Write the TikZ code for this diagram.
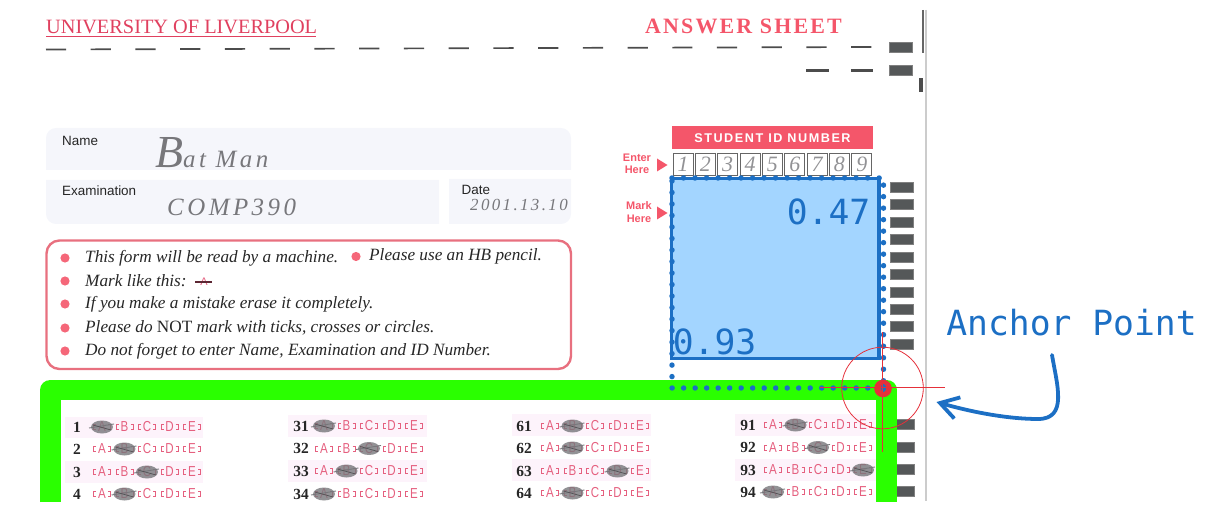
\documentclass[tikz,border=0pt]{standalone}
\usepackage{fontspec}
\setmainfont{Liberation Serif}
\setsansfont{Liberation Sans}
\setmonofont{DejaVu Sans Mono}
\newfontfamily\titlefont[LetterSpace=10]{Liberation Serif}
\newfontfamily\idfont[LetterSpace=12]{Liberation Sans}
\newfontfamily\handfont[LetterSpace=14]{Liberation Serif}
\newfontfamily\bubblefont[FakeStretch=0.8]{Liberation Sans}
\usetikzlibrary{arrows.meta,shapes}
\definecolor{sheetred}{HTML}{E0405F}
\definecolor{softred}{HTML}{F4566A}
\definecolor{boxred}{HTML}{E8707F}
\definecolor{bubblered}{HTML}{E5607F}
\definecolor{stripe}{HTML}{FDF3FB}
\definecolor{panel}{HTML}{F5F6FB}
\definecolor{hiblue}{HTML}{1C6FC4}
\definecolor{hifill}{HTML}{A3D5FF}
\definecolor{hired}{HTML}{E5303A}
\definecolor{framegreen}{HTML}{2AFF00}
\definecolor{blockgray}{HTML}{555859}
\definecolor{pencil}{HTML}{77777B}
\tikzset{
  rule/.style={inner sep=0pt,font=\rmfamily\itshape\fontsize{17.3}{19}\selectfont,text=black!85,anchor=west},
  formlabel/.style={inner sep=0pt,anchor=west,font=\sffamily\fontsize{13.5}{15}\selectfont,text=black!85},
  hand/.style={inner sep=0pt,anchor=west,text=pencil,font=\handfont\itshape\fontsize{25}{27}\selectfont},
  sidelabel/.style={inner sep=0pt,align=center,text=softred,font=\sffamily\bfseries\fontsize{11}{12.5}\selectfont},
  cell/.style={draw=black!60,line width=0.8pt,minimum width=20bp,minimum height=22bp,inner sep=0pt,text=pencil!80,font=\rmfamily\itshape\fontsize{22}{22}\selectfont},
  value/.style={inner sep=0pt,text=hiblue,font=\ttfamily\fontsize{34.8}{36}\selectfont},
  bubble/.style={inner sep=0pt,text=bubblered,font=\bubblefont\fontsize{14.5}{14.5}\selectfont},
  qnum/.style={inner sep=0pt,text=black!85,font=\rmfamily\bfseries\fontsize{15.5}{16}\selectfont},
  block/.style={fill=blockgray,draw=black!50,line width=0.3pt},
  dotrun/.style={hiblue,line width=5.5pt,line cap=round,dash pattern=on 0pt off 11.55pt},
}
% number x, first bubble x, y, number, marked bubble
\newcommand{\answerrow}[5]{
  \node[qnum] (n#4) at (#1,-#3) {#4};
  \foreach \l [count=\i from 0] in {A,B,C,D,E}{
    \node[bubble] (q#4\l) at ({#2+22.5*\i},-#3) {\l};
    \draw[bubblered,line width=0.5pt] ({#2+22.5*\i-6},{-#3+2.5}) -- ({#2+22.5*\i-8.5},{-#3+2.5}) -- ({#2+22.5*\i-8.5},{-#3-2.5}) -- ({#2+22.5*\i-6},{-#3-2.5});
    \draw[bubblered,line width=0.5pt] ({#2+22.5*\i+6},{-#3+2.5}) -- ({#2+22.5*\i+8.5},{-#3+2.5}) -- ({#2+22.5*\i+8.5},{-#3-2.5}) -- ({#2+22.5*\i+6},{-#3-2.5});
  }
  \fill[pencil,opacity=0.8] ({#2+22.5*#5},-#3) ellipse (11 and 6.5);
  \draw[pencil,line width=0.9pt] ({#2+22.5*#5-13},{-#3-1}) -- ({#2+22.5*#5+12},{-#3+3});
  \draw[pencil!70!black,line width=0.7pt] ({#2+22.5*#5-9},{-#3+2}) -- ({#2+22.5*#5+9},{-#3-3});
}
\begin{document}
\begin{tikzpicture}[x=1bp,y=1bp]
\useasboundingbox (0,0) rectangle (1208,-511);

% page edge
\draw[black!20,line width=1.2pt] (926,-10) -- (926,-501);
\draw[black!60,line width=1.2pt] (923,-10) -- (923,-53);
\fill[black!70] (919,-78) rectangle (922.5,-92);

% header
\node (uni) at (46,-26.5)[inner sep=0pt,anchor=west,text=sheetred,font=\rmfamily\fontsize{20.4}{22}\selectfont] {UNIVERSITY OF LIVERPOOL};
\draw[sheetred,line width=0.9pt] (46,-36) -- (316,-36);
\node (sheet) at (743.5,-26)[inner sep=0pt,text=softred,font=\titlefont\bfseries\fontsize{22}{23}\selectfont] {ANSWER SHEET};
\draw[black!70,line width=1.7pt,dash pattern=on 20.3pt off 24.6pt] (46,-49.5) -- (873,-47);
\draw[black!70,line width=2.2pt,dash pattern=on 23pt off 22pt] (806,-70.5) -- (873,-70.5);
\draw[block] (889,-42) rectangle (912,-52.5);
\draw[block] (889,-65) rectangle (912,-75);

% form fields
\fill[panel] (46,-170) [rounded corners=10] -- (46,-128) -- (571,-128) [sharp corners] -- (571,-170) -- cycle;
\fill[panel] (46,-180) -- (439,-180) -- (439,-224) [rounded corners=10] -- (46,-224) [sharp corners] -- cycle;
\fill[panel] (449,-179) -- (571,-179) [rounded corners=10] -- (571,-224) [sharp corners] -- (449,-224) -- cycle;
\node (name) at (62,-141)[formlabel] {Name};
\node (exam) at (62,-191)[formlabel] {Examination};
\node (date) at (461.5,-190)[formlabel] {Date};
\node (batman) at (155,-153)[hand] {{\fontsize{46}{46}\selectfont B}at Man};
\node (comp) at (167,-207)[hand,font=\handfont\itshape\fontsize{25}{27}\selectfont] {COMP390};
\node (when) at (470,-205)[hand,font=\handfont\itshape\fontsize{17}{20}\selectfont] {2001.13.10};

% instructions
\draw[boxred,line width=2.4pt,rounded corners=13] (46.5,-240.5) rectangle (571,-369);
\foreach \y in {258,281,304,328,351}{
  \fill[softred!90] (65,-\y) circle (4.6);
}
\fill[softred!90] (356,-256.5) circle (4.6);
\node (r1) at (85,-258)[rule] {This form will be read by a machine.};
\node (r2) at (369,-256.5)[rule] {Please use an HB pencil.};
\node (r3) at (85,-281)[rule] {Mark like this:};
\node (r3a) at (204,-282)[inner sep=0pt,text=bubblered,font=\sffamily\fontsize{11}{12}\selectfont] {A};
\draw[black!60!bubblered,line width=2.2pt] (195,-282) -- (212,-282);
\node (r4) at (85,-304)[rule] {If you make a mistake erase it completely.};
\node (r5) at (85,-328)[rule] {Please do {\upshape NOT} mark with ticks, crosses or circles.};
\node (r6) at (85,-351)[rule] {Do not forget to enter Name, Examination and ID Number.};

% student id
\fill[softred] (672,-126) rectangle (873,-149.5);
\node (idhead) at (772.5,-138)[inner sep=0pt,text=white,font=\idfont\bfseries\fontsize{12.7}{13}\selectfont] {STUDENT ID NUMBER};
\foreach \d [count=\i from 0] in {1,...,9}{
  \node[cell] (digit\d) at ({683+22.35*\i},-164.5) {\d};
}
\node (enter) at (637,-164)[sidelabel] {Enter\\Here};
\fill[softred] (657,-158.5) -- (667.5,-165) -- (657,-171.5) -- cycle;
\node (mark) at (639,-212)[sidelabel] {Mark\\Here};
\fill[softred] (657,-206.5) -- (667.5,-213) -- (657,-219.5) -- cycle;

% timing blocks
\foreach \y in {187,204.5,222,239.5,257,274.5,292,309,326.5,344}{
  \draw[block] (890,-\y+5) rectangle (913,-\y-5);
}
\foreach \y in {424,447,469,491}{
  \draw[block] (890,-\y+5) rectangle (914,-\y-5);
}

% answers
\fill[stripe] (65,-417) rectangle (203,-438);
\fill[stripe] (65,-461) rectangle (203,-483);
\fill[stripe] (288,-415) rectangle (427,-437);
\fill[stripe] (288,-460) rectangle (427,-482);
\fill[stripe] (512,-414) rectangle (651,-436);
\fill[stripe] (512,-459) rectangle (651,-481);
\fill[stripe] (735,-414) rectangle (877,-436);
\fill[stripe] (735,-459) rectangle (877,-481);
\answerrow{77}{102}{427}{1}{0}
\answerrow{77}{102}{449}{2}{1}
\answerrow{77}{102}{472}{3}{2}
\answerrow{77}{102}{494}{4}{1}
\answerrow{301}{324}{426}{31}{0}
\answerrow{301}{324}{448.5}{32}{2}
\answerrow{301}{324}{471}{33}{1}
\answerrow{301}{324}{494}{34}{0}
\answerrow{524}{550}{426}{61}{1}
\answerrow{524}{550}{448}{62}{1}
\answerrow{524}{550}{471}{63}{3}
\answerrow{524}{550}{493}{64}{1}
\answerrow{748}{773}{425}{91}{1}
\answerrow{748}{773}{447.5}{92}{2}
\answerrow{748}{773}{470}{93}{4}
\answerrow{748}{773}{492}{94}{0}
% white below the sheet
\fill[white] (0,-502) rectangle (1208,-511);

% detected frame
\draw[framegreen,line width=21pt,line join=round] (50.5,-502) -- (50.5,-390) -- (886.75,-390) -- (886.75,-502);

% field region
\draw[fill=hifill,draw=hiblue,line width=4pt] (671.5,-178.5) rectangle (879,-358.5);
\draw[dotrun] (672,-178) -- (883.5,-178) -- (883.5,-388) -- (672,-388) -- cycle;
\node (top) at (828.5,-212)[value] {0.47};
\node (bottom) at (714.5,-342)[value] {0.93};

% anchor
\fill[hired] (883,-388.5) circle (8.8);
\fill[hiblue] (883.5,-388) ellipse (2.6 and 4);
\draw[hired,line width=0.8pt] (882.5,-388) circle (40.8);
\draw[hired,line width=0.9pt] (820,-387.5) -- (945,-387.5);
\draw[hired,line width=0.9pt] (882.5,-332) -- (882.5,-452);
\node (anchorlabel) at (1071.5,-323)[value] {Anchor Point};
\coordinate (arrowstart) at (1052,-355);
\coordinate (arrowend) at (936.5,-402);
\draw[-{Straight Barb[length=18bp,width=22bp]},hiblue,line width=3.8pt,line cap=round] (arrowstart) .. controls (1057,-385) and (1068,-419) .. (1038,-419) .. controls (1010,-419) and (975,-413) .. (arrowend);
\end{tikzpicture}
\end{document}
